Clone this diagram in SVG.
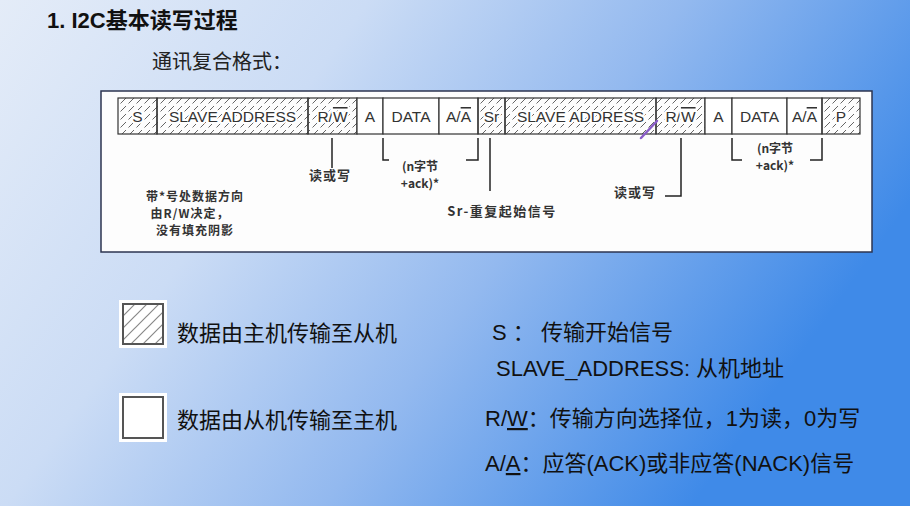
<svg xmlns="http://www.w3.org/2000/svg" width="910" height="506" viewBox="0 0 910 506">
<defs>
<linearGradient id="bg" x1="0" y1="0" x2="1" y2="0.4">
<stop offset="0" stop-color="#e4ecf8"/>
<stop offset="0.35" stop-color="#cbdcf5"/>
<stop offset="0.65" stop-color="#93b9ef"/>
<stop offset="1" stop-color="#3f8ae8"/>
</linearGradient>
<pattern id="hatch" patternUnits="userSpaceOnUse" width="8" height="8">
<path d="M0.5,7.5 L6,2" stroke="#555" stroke-width="0.9" fill="none"/>
</pattern>
<pattern id="hatchBig" patternUnits="userSpaceOnUse" x="123" y="304" width="12" height="12">
<path d="M0,12 L12,0 M-2,2 L2,-2 M10,14 L14,10" stroke="#888" stroke-width="1.2" fill="none"/>
</pattern>
<style>
.cell{stroke:#333;stroke-width:1.2}
.h{fill:url(#hatch)}
.w{fill:#fff}
.ct{font-family:"Liberation Sans","Noto Sans CJK SC",sans-serif;font-size:15.5px;fill:#333;text-anchor:middle}
.halo{stroke:#fff;stroke-width:4;paint-order:stroke;stroke-linejoin:round}
.note{font-family:"Noto Sans CJK SC",sans-serif;font-size:13px;font-weight:bold;fill:#333;text-anchor:middle}
.sm{font-family:"Noto Sans CJK SC",sans-serif;font-size:12px;font-weight:bold;fill:#333;text-anchor:middle;letter-spacing:1px}
.br{font-family:"Noto Sans CJK SC",sans-serif;font-size:12px;font-weight:bold;fill:#333;text-anchor:middle}
.conn path{stroke:#222;stroke-width:1.5;fill:none}
.leg{font-family:"Liberation Sans","Noto Sans CJK SC",sans-serif;font-size:22px;fill:#111}
.ov{text-decoration:overline}
.un{text-decoration:underline}
</style>
</defs>
<rect width="910" height="506" fill="url(#bg)"/>
<text x="47" y="28" style="font-family:'Liberation Sans','Noto Sans CJK SC',sans-serif;font-size:22px;font-weight:bold;fill:#111">1. I2C基本读写过程</text>
<text x="152" y="69" style="font-family:'Noto Sans CJK SC',sans-serif;font-size:20px;fill:#222">通讯复合格式：</text>
<rect id="panel" x="101" y="91" width="771" height="161" fill="#fdfdfd" stroke="#2c3550" stroke-width="1.5"/>
<g id="cell-S"><rect class="cell h" x="118" y="98" width="39" height="36"/><text class="ct halo" x="137.5" y="122">S</text></g>
<g id="cell-addr1"><rect class="cell h" x="157" y="98" width="151" height="36"/><text class="ct halo" x="232.5" y="122">SLAVE ADDRESS</text></g>
<g id="cell-rw1"><rect class="cell h" x="308" y="98" width="49" height="36"/><text class="ct halo" x="332.5" y="122">R/<tspan class="ov">W</tspan></text></g>
<g id="cell-a1"><rect class="cell w" x="357" y="98" width="26" height="36"/><text class="ct" x="370" y="122">A</text></g>
<g id="cell-data1"><rect class="cell w" x="383" y="98" width="56" height="36"/><text class="ct" x="411" y="122">DATA</text></g>
<g id="cell-aa1"><rect class="cell w" x="439" y="98" width="39" height="36"/><text class="ct" x="458.5" y="122">A/<tspan class="ov">A</tspan></text></g>
<g id="cell-Sr"><rect class="cell h" x="478" y="98" width="27" height="36"/><text class="ct halo" x="491.5" y="122">Sr</text></g>
<g id="cell-addr2"><rect class="cell h" x="505" y="98" width="151" height="36"/><text class="ct halo" x="580.5" y="122">SLAVE ADDRESS</text></g>
<g id="cell-rw2"><rect class="cell h" x="656" y="98" width="49" height="36"/><text class="ct halo" x="680.5" y="122">R/<tspan class="ov">W</tspan></text></g>
<g id="cell-a2"><rect class="cell w" x="705" y="98" width="27" height="36"/><text class="ct" x="718.5" y="122">A</text></g>
<g id="cell-data2"><rect class="cell w" x="732" y="98" width="55" height="36"/><text class="ct" x="759.5" y="122">DATA</text></g>
<g id="cell-aa2"><rect class="cell w" x="787" y="98" width="35" height="36"/><text class="ct" x="804.5" y="122">A/<tspan class="ov">A</tspan></text></g>
<g id="cell-P"><rect class="cell h" x="822" y="98" width="38" height="36"/><text class="ct halo" x="841" y="122">P</text></g>
<g id="connectors" class="conn">
<path d="M332,138 V168"/>
<path d="M383,138 V160 H389"/>
<path d="M478,138 V160 H466"/>
<path d="M490,138 V191"/>
<path d="M681,138 V196 H665"/>
<path d="M732,138 V160 H742"/>
<path d="M822,138 V160 H810"/>
</g>
<path d="M641,138 L657,121" stroke="#8a5cc8" stroke-width="2.5" stroke-linecap="round"/>
<g id="label-rw1"><text class="note" x="330" y="180" letter-spacing="1">读或写</text></g>
<g id="label-n1"><text class="br" x="420" y="171">(n字节</text><text class="br" x="420" y="188">+ack)*</text></g>
<g id="label-sr"><text class="note" x="502" y="216" letter-spacing="1.5">Sr-重复起始信号</text></g>
<g id="label-rw2"><text class="note" x="635" y="197" letter-spacing="1">读或写</text></g>
<g id="label-n2"><text class="br" x="775" y="153">(n字节</text><text class="br" x="775" y="170">+ack)*</text></g>
<g id="label-note">
<text class="sm" x="195" y="201">带*号处数据方向</text>
<text class="sm" x="190" y="218">由R/W决定，</text>
<text class="sm" x="195" y="235">没有填充阴影</text>
</g>
<g id="legend-hatch">
<rect x="119" y="300" width="48" height="48" fill="#fff"/>
<rect x="123" y="304" width="40" height="40" fill="url(#hatchBig)" stroke="#555" stroke-width="2"/>
<text class="leg" x="177" y="341" style="font-family:'Noto Sans CJK SC',sans-serif">数据由主机传输至从机</text>
</g>
<g id="legend-white">
<rect x="119" y="393" width="48" height="49" fill="#fff"/>
<rect x="123" y="397" width="40" height="41" fill="#fff" stroke="#555" stroke-width="2"/>
<text class="leg" x="177" y="428" style="font-family:'Noto Sans CJK SC',sans-serif">数据由从机传输至主机</text>
</g>
<g id="legend-defs">
<text class="leg" x="492" y="340">S ：  传输开始信号</text>
<text class="leg" x="496" y="376">SLAVE_ADDRESS: 从机地址</text>
<text class="leg" x="485" y="426">R/<tspan class="un">W</tspan>：传输方向选择位，1为读，0为写</text>
<text class="leg" x="485" y="471">A/<tspan class="un">A</tspan>：应答(ACK)或非应答(NACK)信号</text>
</g>
</svg>
